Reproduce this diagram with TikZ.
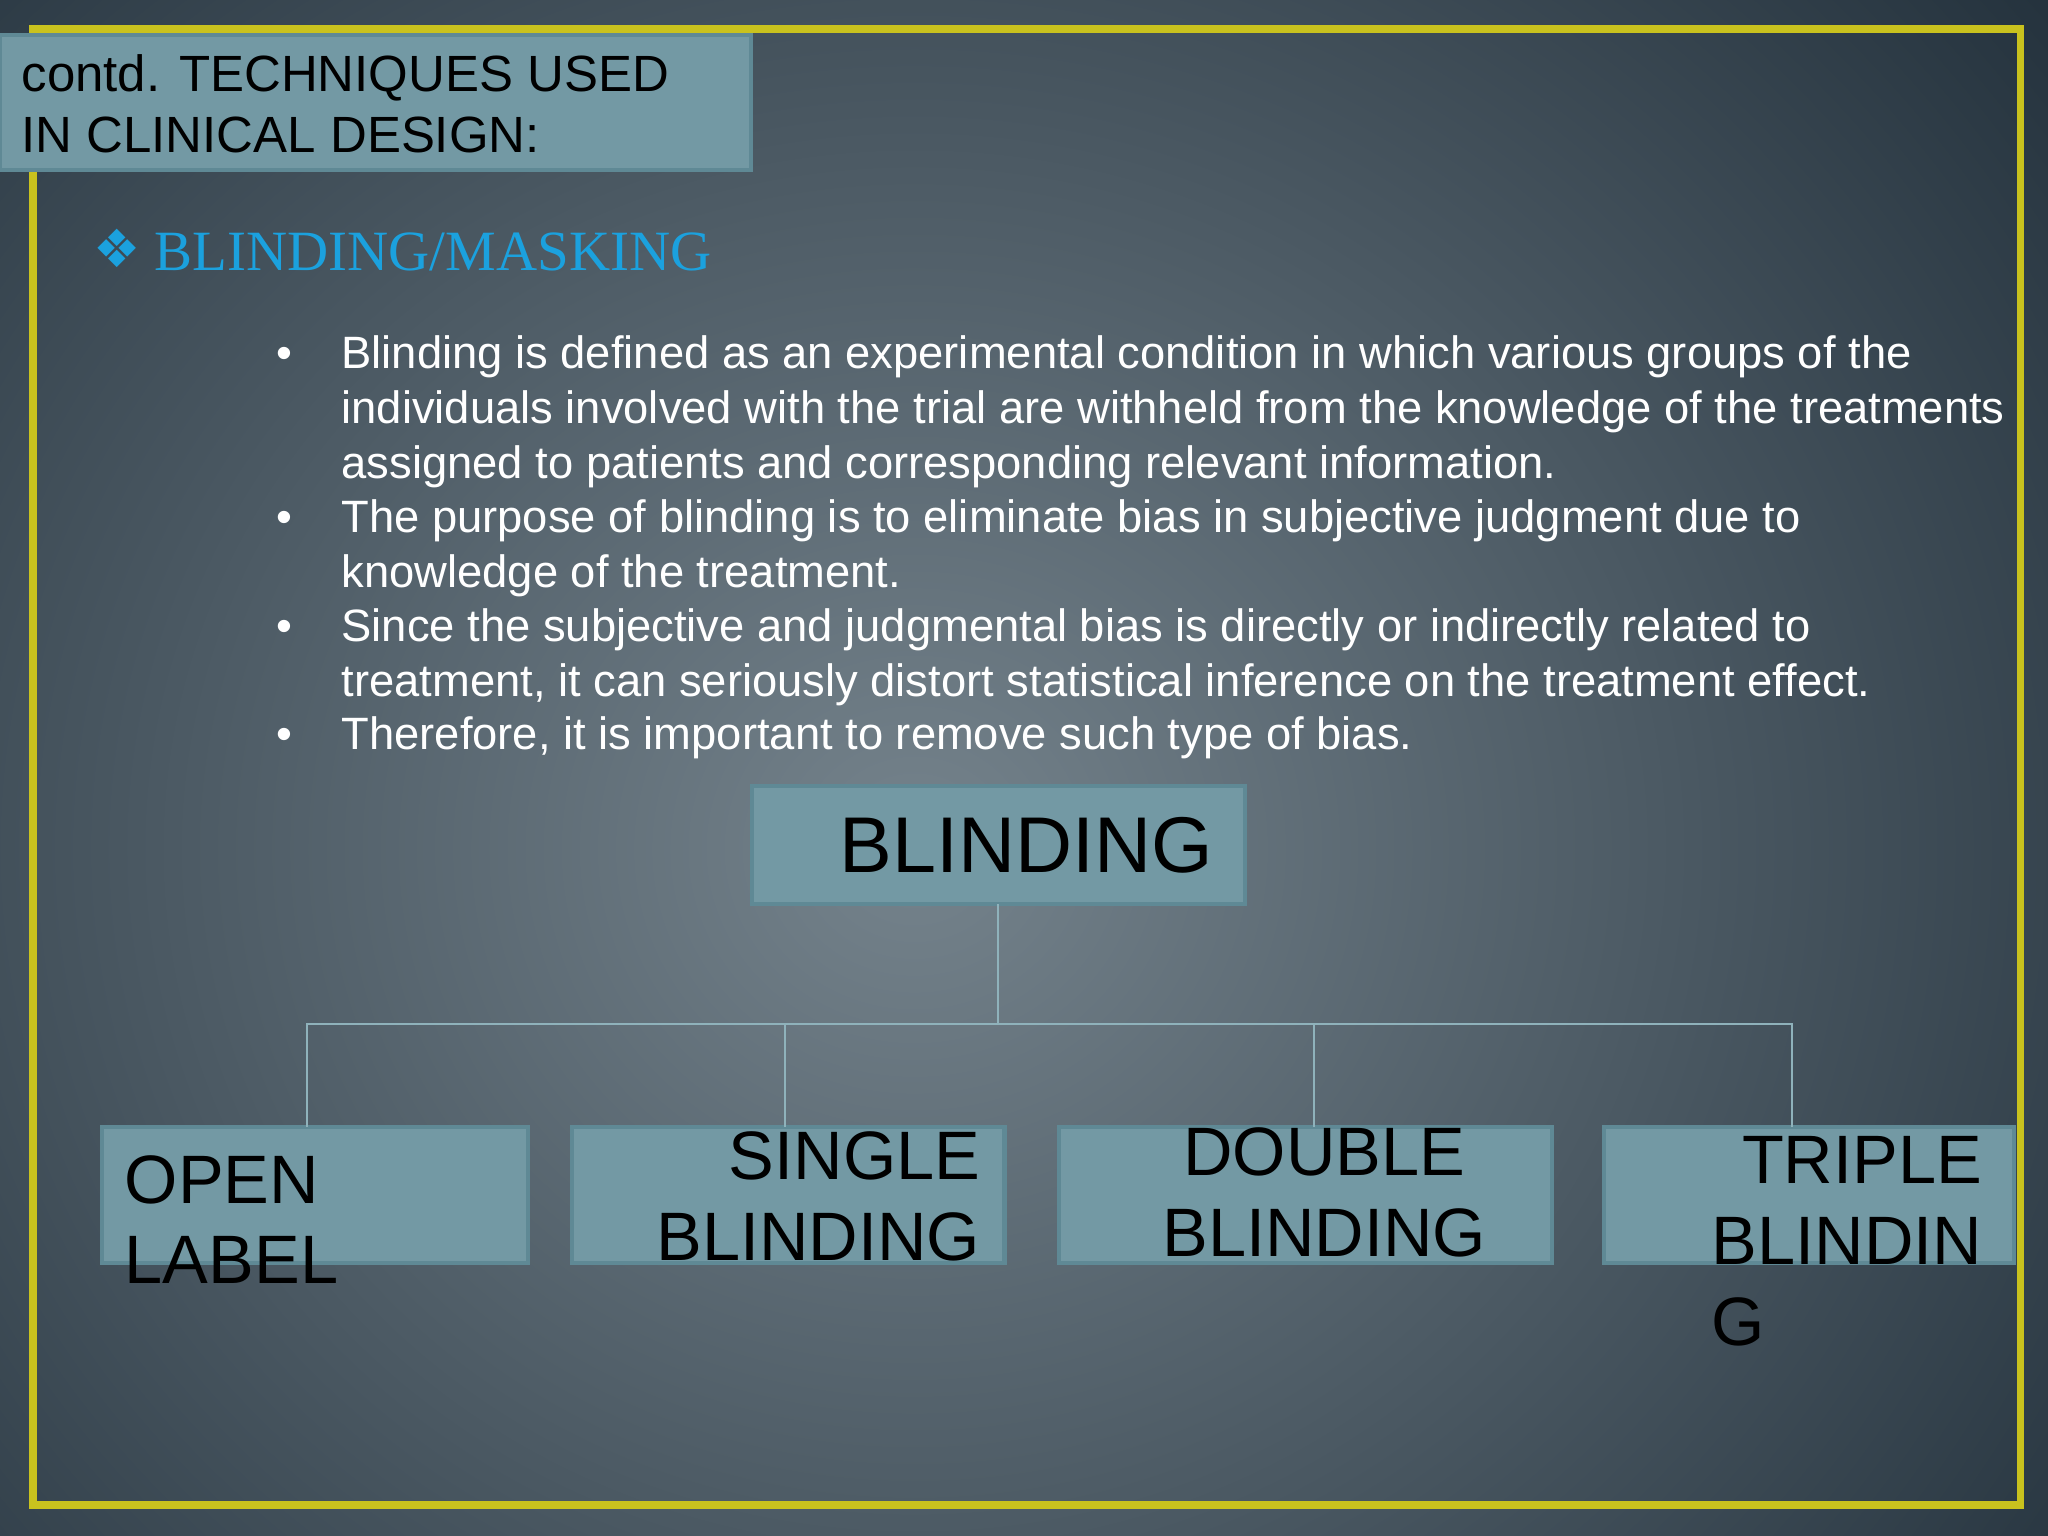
\documentclass[tikz,border=0pt]{standalone}
\usepackage{fontspec}
\setmainfont{Liberation Sans}
\newfontfamily\serifh{Liberation Serif}
\newfontfamily\dejavu{DejaVu Sans}
\definecolor{bgin}{HTML}{75838C}
\definecolor{bgout}{HTML}{22303B}
\definecolor{boxfill}{HTML}{7399A4}
\definecolor{boxline}{HTML}{5F8995}
\definecolor{frame}{HTML}{C9C21E}
\definecolor{head}{HTML}{1BA1DE}
\definecolor{conn}{HTML}{8FB2BB}
\tikzset{
  pbox/.style={draw=boxline,line width=1.2pt,fill=boxfill},
  lbl/.style={inner sep=0pt,font=\fontsize{19.5}{23}\selectfont,text=black},
  conline/.style={draw=conn,line width=0.7pt},
  btxt/.style={anchor=base west,inner sep=0pt,font=\fontsize{12.9}{15.6}\selectfont,text=white,align=left}
}
\begin{document}
\begin{tikzpicture}[x=0.013061cm,y=-0.013061cm]
\useasboundingbox (0,0) rectangle (1568,1176);
\begin{scope}
\clip (0,0) rectangle (1568,1176);
\shade[inner color=bgin,outer color=bgout] (-450,-420) rectangle (1850,1720);
\end{scope}
\draw[frame,line width=2.2pt] (25,22) rectangle (1547,1152);
% title
\path[pbox] (0,27) rectangle (575,130);
\node[anchor=base west,inner sep=0pt,align=left,font=\fontsize{14.5}{17.5}\selectfont] (title) at (16,117) {contd. TECHNIQUES USED\\IN CLINICAL DESIGN:};
% heading
\node[anchor=base west,inner sep=0pt,text=head,font=\dejavu\fontsize{15}{18}\selectfont] (dia) at (71,205) {❖};
\node[anchor=base west,inner sep=0pt,text=head,font=\serifh\fontsize{16.2}{20}\selectfont] (heading) at (118,207) {BLINDING/MASKING};
% bullets
\foreach \y/\n in {282/b1,408/b2,491/b3,574/b4}{\node[btxt] (\n) at (211,\y) {•};}
\node[btxt] (t1) at (261,366) {Blinding is defined as an experimental condition in which various groups of the\\individuals involved with the trial are withheld from the knowledge of the treatments\\assigned to patients and corresponding relevant information.};
\node[btxt] (t2) at (261,450) {The purpose of blinding is to eliminate bias in subjective judgment due to\\knowledge of the treatment.};
\node[btxt] (t3) at (261,533) {Since the subjective and judgmental bias is directly or indirectly related to\\treatment, it can seriously distort statistical inference on the treatment effect.};
\node[btxt] (t4) at (261,574) {Therefore, it is important to remove such type of bias.};
% boxes
\path[pbox] (576,602) rectangle (953,692);
\node[lbl,font=\fontsize{22.5}{25}\selectfont] (blind) at (786,647) {BLINDING};
\coordinate (top) at (764,692);
\coordinate (hub) at (764,784);
\path[pbox] (78,863) rectangle (404,967);
\path[pbox] (438,863) rectangle (769,967);
\path[pbox] (811,863) rectangle (1188,967);
\path[pbox] (1228,863) rectangle (1542,967);
\coordinate (c1) at (235,863);
\coordinate (c2) at (601,863);
\coordinate (c3) at (1006,863);
\coordinate (c4) at (1372,863);
\draw[conline] (top) -- (hub);
\draw[conline] (c1) |- (hub) -| (c4);
\draw[conline] (c2) -- (601,784);
\draw[conline] (c3) -- (1006,784);
\node[lbl,anchor=base west,align=left] (open) at (95,983) {OPEN\\LABEL};
\node[lbl,anchor=base east,align=right] (single) at (751,965) {SINGLE\\BLINDING};
\node[lbl,anchor=base,align=center] (double) at (1014,962) {DOUBLE\\BLINDING};
\node[lbl,anchor=base east] (triple) at (1518,906) {TRIPLE};
\node[lbl,anchor=base west,align=left] (triple2) at (1310,1030) {BLINDIN\\G};
\end{tikzpicture}
\end{document}
